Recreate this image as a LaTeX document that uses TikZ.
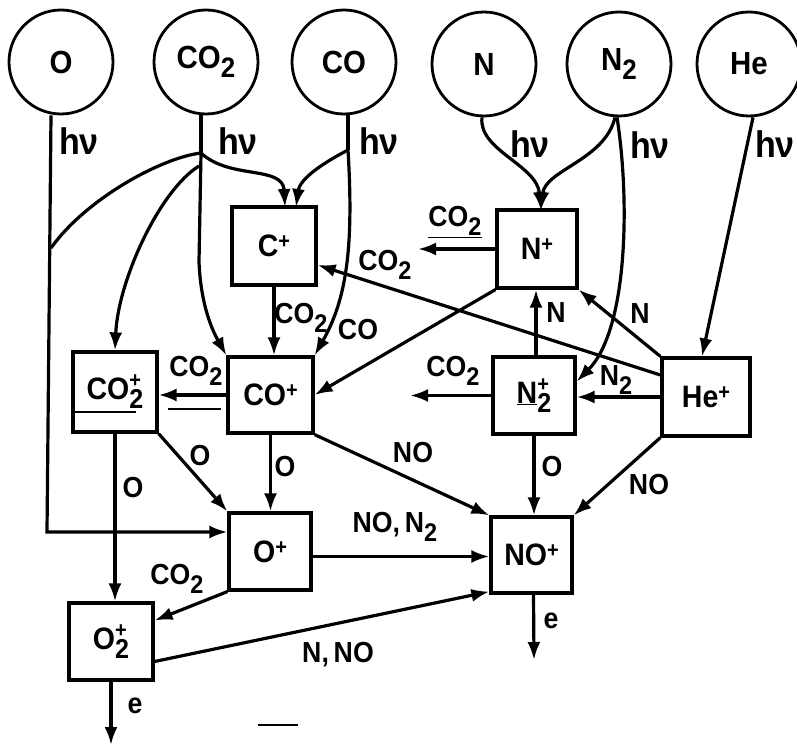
\documentclass[tikz,border=0pt]{standalone}
\usepackage{fontspec}
\setmainfont{Liberation Sans}[FakeStretch=0.92]
\usetikzlibrary{arrows.meta,calc}
\newcommand\dn[1]{\raisebox{-0.3em}{\scalebox{0.88}{#1}}}
\newcommand\up[1]{\raisebox{0.26em}{\scalebox{0.7}{#1}}}
\newcommand\ud[2]{\makebox[0pt][l]{\raisebox{0.38em}{\scalebox{0.7}{#2}}}\dn{#1}}
\begin{document}
\begin{tikzpicture}[x=1pt,y=-1pt,line width=3.2pt,
  arr/.style={-{Latex[length=18pt,width=13pt]}},
  box/.style={draw,rectangle,inner sep=0pt,font=\bfseries\fontsize{31}{33}\selectfont},
  circ/.style={draw,circle,minimum size=104pt,inner sep=0pt,line width=2.8pt,font=\bfseries\fontsize{32}{34}\selectfont},
  lbl/.style={inner sep=0pt,font=\bfseries\fontsize{29}{31}\selectfont},
  hv/.style={inner sep=0pt,font=\bfseries\fontsize{37}{39}\selectfont}]
\useasboundingbox (0,0) rectangle (797,746);
% neutral species
\node[circ] (O) at (61,62) {O};
\node[circ] (CO2) at (206,62) {CO\dn2};
\node[circ] (CO) at (344,62) {CO};
\node[circ] (N) at (484,64) {N};
\node[circ] (N2) at (619,64) {N\dn2};
\node[circ] (He) at (749,64) {He};
% ions
\node[box,minimum width=84pt,minimum height=78pt] (Cp) at (274,246) {C\up+};
\node[box,minimum width=80pt,minimum height=78pt] (Np) at (537,249) {N\up+};
\node[box,minimum width=84pt,minimum height=80pt] (CO2p) at (115,392) {CO\ud{2}{+}};
\node[box,minimum width=85pt,minimum height=76pt] (COp) at (270.5,395) {CO\up+};
\node[box,minimum width=82pt,minimum height=77pt] (N2p) at (534,395.5) {\underline{N}\ud{2}{+}};
\node[box,minimum width=88pt,minimum height=78pt] (Hep) at (706,397) {He\up+};
\node[box,minimum width=82pt,minimum height=77pt] (Op) at (270,551.5) {O\up+};
\node[box,minimum width=81pt,minimum height=76pt] (NOp) at (531.5,555) {NO\up+};
\node[box,minimum width=84pt,minimum height=77pt] (O2p) at (111,641.5) {O\ud{2}{+}};
% auxiliary points
\coordinate (b1) at (201,153);
\coordinate (b2) at (199,166);
\coordinate (c1) at (348,150);
\coordinate (oc) at (47,532);
\coordinate (ntip) at (541,210);
\coordinate (oj) at (51,248);
\coordinate (nco2) at (418,249);
\coordinate (n2co2) at (410,395.5);
\coordinate (noe) at (534,660);
\coordinate (o2e) at (113,745);
% photo-ionisation paths
\draw[arr] ([xshift=-10pt]O.south) -- (oc) -- (oc -| Op.west);
\draw ([xshift=-5pt]CO2.south) -- (b1);
\draw[arr] (b1) .. controls (230,180) and (283,165) .. (285,207);
\draw (b1) .. controls (160,158) and (85,200) .. (oj);
\draw[arr] (b2) .. controls (160,190) and (118,280) .. (CO2p.north);
\draw[arr] (b1) -- (199,262) .. controls (201,310) and (215,335) .. (COp.north west);
\draw ([xshift=4pt]CO.south) -- (c1);
\draw[arr] (c1) .. controls (325,162) and (300,178) .. (296,207);
\draw[arr] (c1) .. controls (354,250) and (346,300) .. (COp.north east);
\draw[arr] ([xshift=-2pt]N.south) .. controls (478,150) and (537,165) .. (ntip);
\draw[arr] ([xshift=-4pt]N2.south) .. controls (605,160) and (545,170) .. (ntip);
\draw[arr] ([xshift=-2pt]N2.south) .. controls (630,200) and (628,330) .. ([yshift=14pt]N2p.east);
\draw[arr] ([xshift=4pt]He.south) -- ([xshift=-4pt]Hep.north);
% reactions
\draw[arr] (Cp.south) -- (Cp.south |- COp.north);
\draw[arr] (COp.west) -- (COp.west -| CO2p.east);
\draw[line width=2.4pt] (168,409) -- (221,409);
\draw[line width=2.4pt] ([yshift=-20pt]CO2p.west) -- +(65,0);
\draw[arr] (Np.west) -- (nco2);
\draw[arr] ([yshift=22pt]Hep.west) -- ([yshift=-19pt]Cp.east);
\draw[arr] (Np.south west) -- (COp.east);
\draw[arr] ([xshift=2pt]N2p.north) -- ([xshift=2pt]N2p.north |- Np.south);
\draw[arr] (Hep.north west) -- (Np.south east);
\draw[arr] (Hep.west) -- (Hep.west -| N2p.east);
\draw[arr] (N2p.west) -- (n2co2);
\draw[arr] (N2p.south) -- (N2p.south |- NOp.north);
\draw[arr] (Hep.south west) -- (NOp.north east);
\draw[arr] (COp.south east) -- (NOp.north west);
\draw[arr] (COp.south) -- (COp.south |- Op.north);
\draw[arr] (CO2p.south east) -- (Op.north west);
\draw[arr] (CO2p.south) -- (CO2p.south |- O2p.north);
\draw[arr] ([yshift=-5pt]Op.east) -- ([yshift=-5pt]Op.east -| NOp.west);
\draw[arr] (Op.south west) -- ([yshift=21pt]O2p.east);
\draw[arr] ([yshift=-20pt]O2p.east) -- ([yshift=3pt]NOp.south west);
\draw[arr] ([xshift=2pt]NOp.south) -- (noe);
\draw[arr] (O2p.south) -- (O2p.south |- o2e);
\draw[line width=2.4pt] (258,725) -- (298,725);
% labels
\node[hv] at (79,141) {hν};
\node[hv] at (238,141) {hν};
\node[hv] at (379,141) {hν};
\node[hv] at (530,144) {hν};
\node[hv] at (650,145) {hν};
\node[hv] at (775,144) {hν};
\node[lbl] at (455,222) {\underline{CO\dn2}};
\node[lbl] at (385,265) {CO\dn2};
\node[lbl] at (301,318) {CO\dn2};
\node[lbl] at (358,330) {CO};
\node[lbl] at (556,313) {N};
\node[lbl] at (640,314) {N};
\node[lbl] at (196,371) {CO\dn2};
\node[lbl] at (453,371) {CO\dn2};
\node[lbl] at (616,380) {N\dn2};
\node[lbl] at (133,488) {O};
\node[lbl] at (200,456) {O};
\node[lbl] at (285,467) {O};
\node[lbl] at (413,453) {NO};
\node[lbl] at (552,467) {O};
\node[lbl] at (649,485) {NO};
\node[lbl] at (395,527) {NO,\,N\dn2};
\node[lbl] at (177,579) {CO\dn2};
\node[lbl] at (338,655) {N,\,NO};
\node[lbl] at (551,621) {e};
\node[lbl] at (135,706) {e};
\end{tikzpicture}
\end{document}
